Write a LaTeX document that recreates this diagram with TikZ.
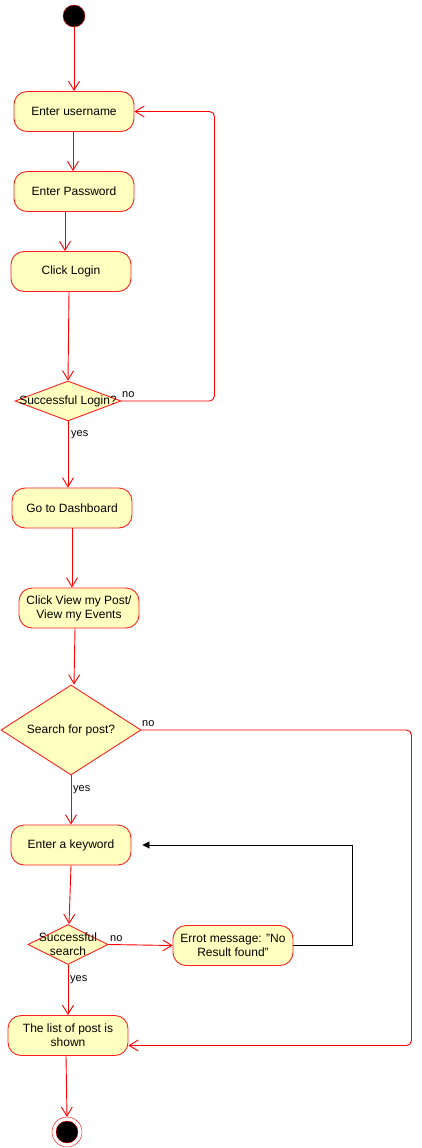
\documentclass[tikz,border=0pt]{standalone}
\usepackage{fontspec}
\setmainfont{Liberation Sans}
\usetikzlibrary{shapes.geometric,arrows.meta}
\definecolor{actfill}{HTML}{FFFFC0}
\definecolor{actline}{HTML}{FF2020}
\tikzset{
  act/.style={draw=actline, fill=actfill, rounded corners=13pt, minimum width=120pt,
    minimum height=40pt, align=center, inner sep=2pt, line width=0.9pt,
    font=\fontsize{12}{14}\selectfont},
  dec/.style={diamond, draw=actline, fill=actfill, inner sep=0pt, line width=0.9pt,
    font=\fontsize{12}{14}\selectfont},
  flow/.style={draw=red, line width=0.9pt, -{Straight Barb[length=9pt,width=11pt]}},
  back/.style={draw=black, line width=0.9pt, -{Triangle[length=7pt,width=7pt]}},
  lbl/.style={font=\fontsize{11}{13}\selectfont, inner sep=0pt, anchor=west}
}
\begin{document}
\begin{tikzpicture}[x=1pt,y=-1pt]
\useasboundingbox (0,0) rectangle (422,1148);
% start and end
\node[circle, draw=red, fill=black, minimum size=22pt, inner sep=0pt] (start) at (74,16) {};
\node[circle, draw=red, fill=white, minimum size=30pt, inner sep=0pt] (end) at (67,1132) {};
\node[circle, draw=red, fill=black, minimum size=22pt, inner sep=0pt] (endin) at (end) {};
% activities
\node[act] (un) at (74,111.5) {Enter username};
\node[act] (pw) at (74,191.5) {Enter Password};
\node[act] (cl) at (71,271.5) {Click Login};
\node[dec, minimum width=106pt, minimum height=40pt] (sl) at (68,401) {\makebox[0pt]{\raisebox{-3pt}{Successful Login?}}};
\node[act] (gd) at (72,508) {Go to Dashboard};
\node[act] (cv) at (79,608) {Click View my Post/\\View my Events};
\node[dec, minimum width=140pt, minimum height=90pt] (sp) at (71,730) {\makebox[0pt]{\raisebox{-2pt}{Search for post?}}};
\node[act] (kw) at (71,845) {Enter a keyword};
\node[dec, minimum width=80pt, minimum height=40pt] (ss) at (68,944.5) {\makebox[0pt]{\smash{\raisebox{-4pt}{\begin{tabular}{@{}c@{}}Successful\\search\end{tabular}}}}};
\node[act] (err) at (233,945.5) {Errot message: "No\\Result found"};
\node[act] (ls) at (68,1035.5) {The list of post is\\shown};
% connectors
\draw[flow] (start.south) -- (start.south |- un.north);
\draw[flow] ([xshift=-1pt]un.south) -- ([xshift=-1pt]pw.north);
\draw[flow] ([xshift=-9pt]pw.south) -- ([xshift=-6pt]cl.north);
\draw[flow] ([xshift=-2pt]cl.south) -- (sl.north);
\draw[flow, rounded corners=5pt] (sl.east) -| ([xshift=80pt]un.east) -- (un.east);
\draw[flow] (sl.south) -- ([xshift=-4pt]gd.north);
\draw[flow] (gd.south) -- ([xshift=-7pt]cv.north);
\draw[flow] ([xshift=-4pt]cv.south) -- ([xshift=3pt]sp.north);
\draw[flow] (sp.south) -- (kw.north);
\draw[flow, rounded corners=5pt] (sp.east) -| ([xshift=283pt,yshift=-10pt]ls.east) -- ([yshift=-10pt]ls.east);
\draw[flow] (kw.south) -- ([xshift=1pt]ss.north);
\draw[flow] (ss.east) -- (err.west);
\draw[back] (err.east) -| ([xshift=221pt]kw.east) -- ([xshift=11pt]kw.east);
\draw[flow] (ss.south) -- (ls.north);
\draw[flow] ([xshift=-2pt]ls.south) -- (end.north);
% labels
\node[lbl] (l1) at (122,394.5) {no};
\node[lbl] (l2) at (71,435) {yes};
\node[lbl] (l3) at (142,723.5) {no};
\node[lbl] (l4) at (73,790) {yes};
\node[lbl] (l5) at (110,938.5) {no};
\node[lbl] (l6) at (70,980) {yes};
\end{tikzpicture}
\end{document}
